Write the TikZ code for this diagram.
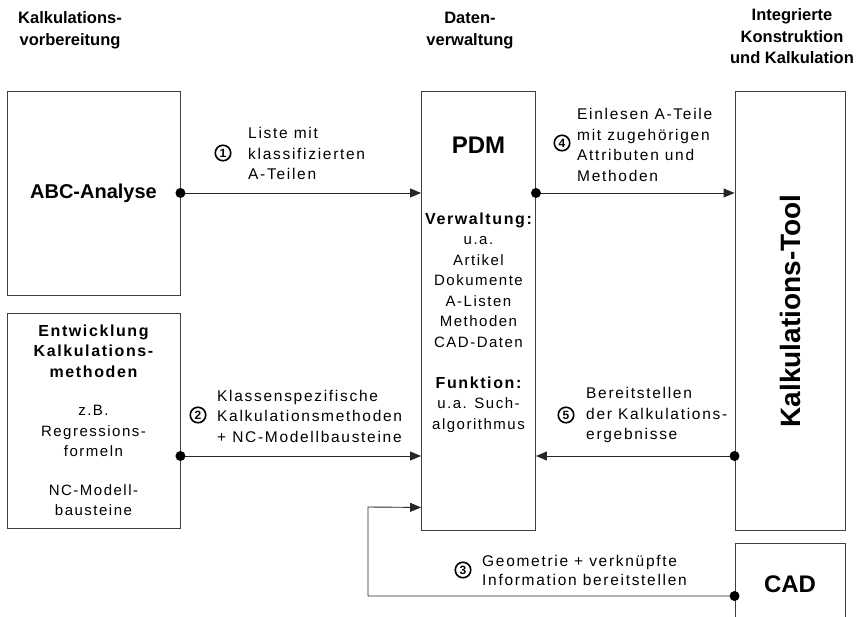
\documentclass[tikz,border=0pt]{standalone}
\usepackage{fontspec}
\setmainfont{Liberation Sans}
\newfontfamily\spaced[LetterSpace=10]{Liberation Sans}
\newfontfamily\wide[LetterSpace=11]{Liberation Sans}
\usetikzlibrary{arrows.meta}

\newcommand{\bodybold}{\fontsize{16}{20}\selectfont\bfseries}
\newcommand{\bodyreg}{\fontsize{15}{20.5}\selectfont\mdseries}

\tikzset{
  box/.style={draw=black!75, line width=0.9pt, rectangle, inner sep=0pt},
  conn/.style={draw=black!85, line width=0.9pt},
  arr/.style={conn, -{Triangle[length=11pt,width=9pt]}},
  dotmark/.style={fill=black},
  lbl/.style={font=\wide\fontsize{15.5}{20.5}\selectfont, align=left, anchor=west, inner sep=0pt},
  num/.style={circle, draw, line width=1.6pt, inner sep=0pt, minimum size=15.5pt,
              font=\bfseries\fontsize{12}{12}\selectfont},
  head/.style={font=\bfseries\fontsize{16.5}{21.5}\selectfont, align=center},
  big/.style={font=\bfseries\fontsize{24}{24}\selectfont},
  body/.style={font=\spaced\fontsize{15}{20.5}\selectfont, align=center, inner sep=0pt},
}

\begin{document}
\begin{tikzpicture}[x=1pt,y=-1pt]
\useasboundingbox (0,0) rectangle (865,617);
\clip (0,0) rectangle (865,617);

% column headings
\node[head] (h1) at (70,30.5) {Kalkulations-\\vorbereitung};
\node[head] (h2) at (470,30.5) {Daten-\\verwaltung};
\node[head] (h3) at (792,36.5) {Integrierte\\Konstruktion\\und Kalkulation};

% left column
\node[box, minimum width=173pt, minimum height=204pt,
      font=\bfseries\fontsize{20}{20}\selectfont] (abc) at (93.5,193) {ABC-Analyse};
\node[box, minimum width=173pt, minimum height=215pt, body] (ent) at (93.5,420.5)
  {\bodybold Entwicklung\\\bodybold Kalkulations-\\\bodybold methoden\\[18pt]
   \bodyreg z.B.\\Regressions-\\formeln\\[18pt]
   NC-Modell-\\bausteine};

% PDM column
\node[box, minimum width=114pt, minimum height=439pt] (pdm) at (478.5,310.5) {};
\node[big] (pdmtitle) at (478.5,145) {PDM};
\node[body] (pdmtext) at (478.5,322.5)
  {\bodybold Verwaltung:\\\bodyreg u.a.\\Artikel\\Dokumente\\A-Listen\\Methoden\\CAD-Daten\\[20.5pt]
   \bodybold Funktion:\\\bodyreg u.a. Such-\\algorithmus};

% right column
\node[box, minimum width=110pt, minimum height=439pt] (tool) at (790,310.5) {};
\node[rotate=90, font=\bfseries\fontsize{28}{28}\selectfont] (tooltext) at (790,311) {Kalkulations-Tool};
\node[box, big, minimum width=110pt, minimum height=82pt] (cad) at (790,584) {CAD};

% connectors
\coordinate (y1) at (abc.east);
\coordinate (y2) at ([yshift=-35.5pt]ent.east);
\coordinate (s3) at ([yshift=-12pt]cad.west);

\draw[arr] (y1) -- (y1 -| pdm.west);
\fill[dotmark] (y1) circle (5pt);

\draw[arr] (y2) -- (y2 -| pdm.west);
\fill[dotmark] (y2) circle (5pt);

\draw[arr] (y1 -| pdm.east) -- (y1 -| tool.west);
\fill[dotmark] (y1 -| pdm.east) circle (5pt);

\draw[arr] (y2 -| tool.west) -- (y2 -| pdm.east);
\fill[dotmark] (y2 -| tool.west) circle (5pt);

\draw[arr] (s3) -| (368,507) -- ([yshift=23pt]pdm.south west);
\fill[dotmark] (s3) circle (5pt);

% connector labels
\node[num] (n1) at (223,153) {1};
\node[lbl] (t1) at (248,153.5) {Liste mit\\klassifizierten\\A-Teilen};

\node[num] (n2) at (198,415) {2};
\node[lbl] (t2) at (217,416) {Klassenspezifische\\Kalkulationsmethoden\\+ NC-Modellbausteine};

\node[num] (n3) at (463,570) {3};
\node[lbl, font=\wide\fontsize{15.5}{19.5}\selectfont] (t3) at (482,570.5) {Geometrie + verknüpfte\\Information bereitstellen};

\node[num] (n4) at (562,143) {4};
\node[lbl] (t4) at (577,145) {Einlesen A-Teile\\mit zugehörigen\\Attributen und\\Methoden};

\node[num] (n5) at (566,415) {5};
\node[lbl] (t5) at (586,415) {Bereitstellen\\der Kalkulations-\\ergebnisse};
\end{tikzpicture}
\end{document}
